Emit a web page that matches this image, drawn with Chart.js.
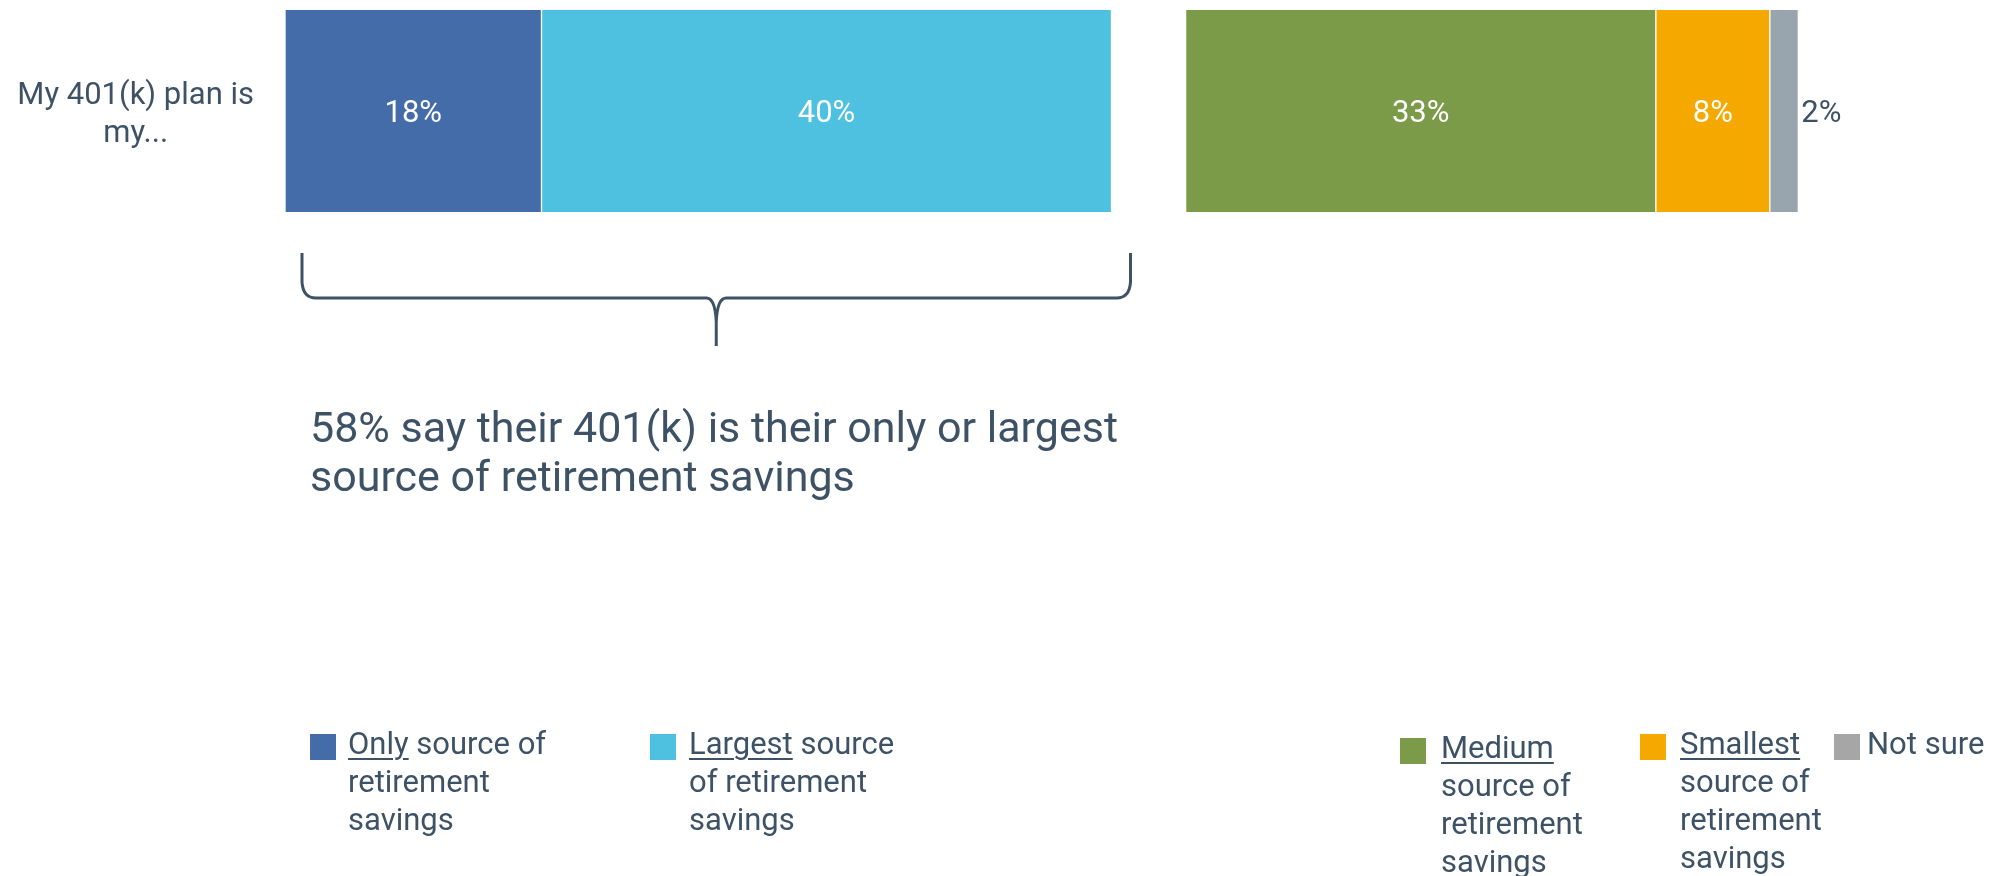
<!DOCTYPE html>
<html>
<head>
<meta charset="utf-8">
<script src="https://cdn.jsdelivr.net/npm/chart.js@4.4.0/dist/chart.umd.min.js"></script>
<style>
    html, body { margin: 0; padding: 0; background: #ffffff; }
    #wrap { position: relative; width: 2009px; height: 876px; overflow: hidden; font-family: Roboto, 'Open Sans', sans-serif; color: #3e5266; }
    #chart { position: absolute; left: 0; top: 0; }
    .note { position: absolute; left: 310px; top: 403px; font-size: 43px; line-height: 49px; white-space: nowrap; }
    .lg { position: absolute; }
    .lg .sw { position: absolute; left: 0; top: 0; width: 26px; height: 26px; }
    .lg .tx { position: absolute; top: -9px; font-size: 31px; line-height: 38px; white-space: nowrap; }
    .lg u { text-decoration-thickness: 2px; text-underline-offset: 4px; }
</style>
</head>
<body>
<div id="wrap">
    <canvas id="chart" width="2009" height="876"></canvas>
    <div class="note">58% say their 401(k) is their only or largest<br>source of retirement savings</div>
    <div id="legend"></div>
</div>
<script>
// Data
const categories = [['My 401(k) plan is', 'my...']];
const seriesNames = ['Only source of retirement savings', 'Largest source of retirement savings', 'Medium source of retirement savings', 'Smallest source of retirement savings', 'Not sure'];
const onlySource = [18];
const largestSource = [40];
const spacer = [5.2];
const mediumSource = [33];
const smallestSource = [8];
const notSure = [2];

const colors = {
    only: '#446ca8',
    largest: '#4fc1e0',
    medium: '#7b9b49',
    smallest: '#f5a800',
    notSure: '#99a5ae',
    notSureKey: '#a6a6a6',
    text: '#3e5266'
};

const fontFamily = "Roboto, 'Open Sans', sans-serif";

function barSet(label, data, color, labelMode) {
    return {
        label: label,
        data: data,
        backgroundColor: color,
        borderColor: '#ffffff',
        borderWidth: { left: 1, right: 1, top: 0, bottom: 0 },
        borderSkipped: false,
        labelMode: labelMode
    };
}

// Value labels drawn on the bars
const valueLabels = {
    id: 'valueLabels',
    afterDatasetsDraw(chart) {
        const ctx = chart.ctx;
        ctx.save();
        ctx.font = '31px ' + fontFamily;
        ctx.textBaseline = 'middle';
        chart.data.datasets.forEach((ds, i) => {
            if (!ds.labelMode) return;
            chart.getDatasetMeta(i).data.forEach((bar, j) => {
                const p = bar.getProps(['x', 'y', 'base'], true);
                const text = ds.data[j] + '%';
                const y = p.y + 3;
                if (ds.labelMode === 'outside') {
                    ctx.fillStyle = colors.text;
                    ctx.textAlign = 'left';
                    ctx.fillText(text, p.x + 3, y);
                } else {
                    ctx.fillStyle = '#ffffff';
                    ctx.textAlign = 'center';
                    ctx.fillText(text, (p.x + p.base) / 2, y);
                }
            });
        });
        ctx.restore();
    }
};

// Curly brace under the first two segments
const bracePlugin = {
    id: 'brace',
    afterDraw(chart) {
        const xs = chart.scales.x;
        const ctx = chart.ctx;
        const x0 = xs.getPixelForValue(0) + 17;
        const x1 = xs.getPixelForValue(onlySource[0] + largestSource[0]) + 19;
        const mid = (x0 + x1) / 2;
        const top = 253, line = 298, tip = 346;
        ctx.save();
        ctx.strokeStyle = colors.text;
        ctx.lineWidth = 3;
        ctx.beginPath();
        ctx.moveTo(x0, top);
        ctx.lineTo(x0, line - 16);
        ctx.quadraticCurveTo(x0 + 1, line, x0 + 14, line);
        ctx.lineTo(mid - 10, line);
        ctx.quadraticCurveTo(mid - 1, line, mid, line + 24);
        ctx.lineTo(mid, tip);
        ctx.moveTo(mid, line + 24);
        ctx.quadraticCurveTo(mid + 1, line, mid + 10, line);
        ctx.lineTo(x1 - 14, line);
        ctx.quadraticCurveTo(x1 - 1, line, x1, line - 16);
        ctx.lineTo(x1, top);
        ctx.stroke();
        ctx.restore();
    }
};

const chart = new Chart(document.getElementById('chart').getContext('2d'), {
    type: 'bar',
    data: {
        labels: categories,
        datasets: [
            barSet(seriesNames[0], onlySource, colors.only, 'inside'),
            barSet(seriesNames[1], largestSource, colors.largest, 'inside'),
            { label: '', data: spacer, backgroundColor: 'rgba(0,0,0,0)', borderWidth: 0 },
            barSet(seriesNames[2], mediumSource, colors.medium, 'inside'),
            barSet(seriesNames[3], smallestSource, colors.smallest, 'inside'),
            barSet(seriesNames[4], notSure, colors.notSure, 'outside')
        ]
    },
    options: {
        responsive: false,
        animation: false,
        indexAxis: 'y',
        layout: {
            padding: { left: 0, right: 14, top: 10, bottom: 664 }
        },
        datasets: {
            bar: { barPercentage: 1, categoryPercentage: 1 }
        },
        scales: {
            x: {
                stacked: true,
                min: 0,
                max: 120,
                display: false
            },
            y: {
                stacked: true,
                grid: { display: false, drawTicks: false },
                border: { display: false },
                afterFit(scale) {
                    scale.width = 285;
                    scale.paddingTop = 0;
                    scale.paddingBottom = 0;
                },
                ticks: {
                    crossAlign: 'center',
                    padding: 31,
                    labelOffset: 4,
                    color: colors.text,
                    font: { family: fontFamily, size: 31, lineHeight: 1.22 }
                }
            }
        },
        plugins: {
            legend: { display: false },
            tooltip: { enabled: false }
        }
    },
    plugins: [valueLabels, bracePlugin]
});

// Legend (HTML so the key words can be underlined)
const legendItems = [
    { key: 'Only', rest: [' source of', 'retirement', 'savings'], color: colors.only, left: 310, top: 734, textLeft: 38 },
    { key: 'Largest', rest: [' source', 'of retirement', 'savings'], color: colors.largest, left: 650, top: 734, textLeft: 39 },
    { key: 'Medium', rest: ['', 'source of', 'retirement', 'savings'], color: colors.medium, left: 1400, top: 738, textLeft: 41 },
    { key: 'Smallest', rest: ['', 'source of', 'retirement', 'savings'], color: colors.smallest, left: 1640, top: 734, textLeft: 40 },
    { key: '', rest: ['Not sure'], color: colors.notSureKey, left: 1834, top: 734, textLeft: 33 }
];

const legendEl = document.getElementById('legend');
legendItems.forEach(item => {
    const div = document.createElement('div');
    div.className = 'lg';
    div.style.left = item.left + 'px';
    div.style.top = item.top + 'px';
    const first = (item.key ? '<u>' + item.key + '</u>' : '') + item.rest[0];
    const lines = [first].concat(item.rest.slice(1));
    div.innerHTML = '<div class="sw" style="background:' + item.color + '"></div>' +
        '<div class="tx" style="left:' + item.textLeft + 'px">' + lines.join('<br>') + '</div>';
    legendEl.appendChild(div);
});
</script>
</body>
</html>
